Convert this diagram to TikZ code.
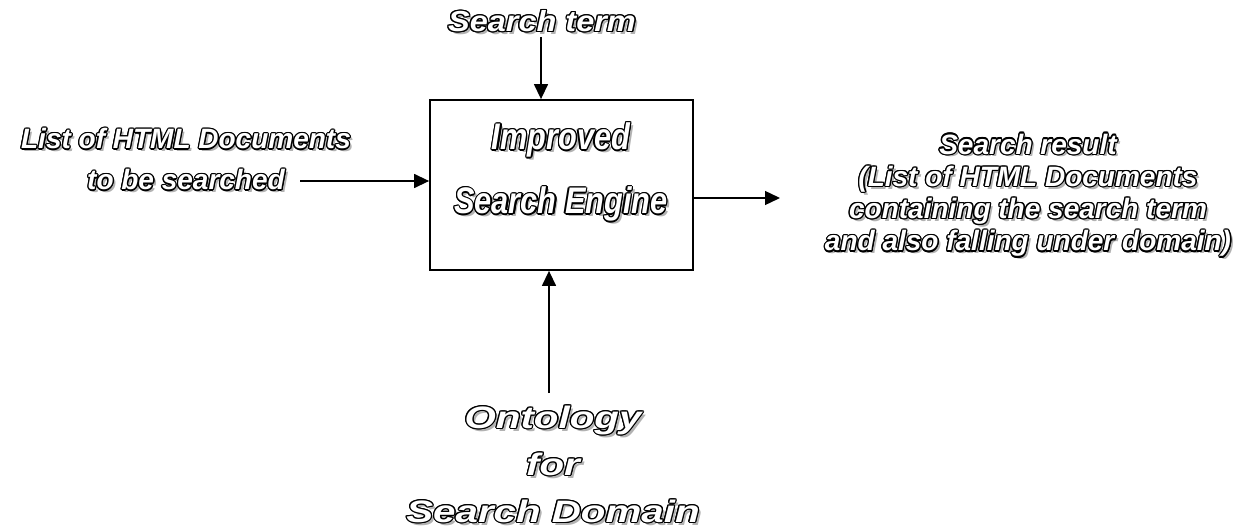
\documentclass[tikz,border=0pt]{standalone}
\usepackage{fontspec}
\setmainfont{Liberation Sans}
\newfontfamily\fterm{Liberation Sans}[FakeStretch=1.12]
\newfontfamily\fnarrow{Liberation Sans}[FakeStretch=0.83]
\newfontfamily\fwide{Liberation Sans}[FakeStretch=1.3]
\usetikzlibrary{arrows.meta}
\newlength\olw \setlength\olw{1.3pt}
\newcommand\olc[3]{\rlap{\hspace*{#1\olw}\raisebox{#2\olw}{#3}}}
\newcommand\ol[1]{\leavevmode{\color{black!30}\olc{2.2}{-2.2}{#1}}%
{\color{black}\olc{1}{0}{#1}\olc{.866}{.5}{#1}\olc{.5}{.866}{#1}\olc{0}{1}{#1}%
\olc{-.5}{.866}{#1}\olc{-.866}{.5}{#1}\olc{-1}{0}{#1}\olc{-.866}{-.5}{#1}%
\olc{-.5}{-.866}{#1}\olc{0}{-1}{#1}\olc{.5}{-.866}{#1}\olc{.866}{-.5}{#1}}%
{\color{white}#1}}
\tikzset{
  otxt/.style={inner sep=0pt, align=center},
  arr/.style={line width=1.4pt, -{Triangle[width=14pt,length=15pt]}},
  boxst/.style={draw, line width=1.8pt, inner sep=0pt, minimum width=263pt, minimum height=170pt}
}
\begin{document}
\begin{tikzpicture}[x=1pt,y=-1pt]
\useasboundingbox (0,0) rectangle (1254,532);
\node[boxst] (box) at (561.5,185) {};
\node[otxt, font=\fnarrow\bfseries\itshape\fontsize{37}{64}\selectfont] (eng) at (561,173) {\ol{Improved}\\\ol{Search Engine}};
\node[otxt, font=\fterm\bfseries\itshape\fontsize{29}{34}\selectfont] (term) at (542,22) {\ol{Search term}};
\node[otxt, font=\bfseries\itshape\fontsize{28}{41}\selectfont] (left) at (186,160) {\ol{List of HTML Documents}\\\ol{to be searched}};
\node[otxt, font=\bfseries\itshape\fontsize{28}{32.3}\selectfont] (right) at (1028,196) {\ol{Search result}\\\ol{(List of HTML Documents}\\\ol{containing the search term}\\\ol{and also falling under domain)}};
\node[otxt, font=\fwide\bfseries\itshape\fontsize{31}{47}\selectfont] (onto) at (553,465) {\ol{Ontology}\\\ol{for}\\\ol{Search Domain}};
\coordinate (ts) at (541,37);
\coordinate (ls) at (300,181);
\coordinate (re) at (780,198);
\coordinate (bs) at (549,393);
\draw[arr] (ts) -- (ts |- box.north);
\draw[arr] (ls) -- (ls -| box.west);
\draw[arr] (re -| box.east) -- (re);
\draw[arr] (bs) -- (bs |- box.south);
\end{tikzpicture}
\end{document}
